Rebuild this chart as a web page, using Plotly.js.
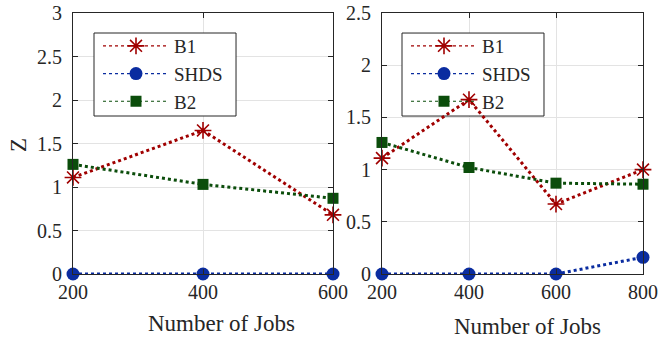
<!DOCTYPE html>
<html>
<head>
<meta charset="utf-8">
<script src="https://cdn.plot.ly/plotly-3.0.1.min.js"></script>
<style>
    html, body { margin: 0; padding: 0; background: #fff; }
    #graph { width: 665px; height: 340px; }
</style>
</head>
<body>
<div id="graph"></div>
<script>
// left panel
const jobsLeft = [200, 400, 600];
const b1Left = [1.11, 1.65, 0.68];
const shdsLeft = [0, 0, 0];
const b2Left = [1.26, 1.03, 0.87];

// right panel
const jobsRight = [200, 400, 600, 800];
const b1Right = [1.11, 1.67, 0.67, 1.0];
const shdsRight = [0, 0, 0, 0.16];
const b2Right = [1.26, 1.02, 0.87, 0.86];

const seriesNames = ['B1', 'SHDS', 'B2'];
const xTitle = 'Number of Jobs';
const yTitle = 'Z';

const red = '#a00000';
const blue = '#0a2ca0';
const green = '#0b4d0b';
const frameColor = '#262626';
const serif = 'Liberation Serif';

const W = 665, H = 340;
const marginTop = 13, marginBottom = 66;
const plotH = H - marginTop - marginBottom;

function px(x) { return x / W; }
function py(y) { return (marginTop + plotH - y) / plotH; }

const styles = [
    {color: red, marker: {symbol: 'asterisk-open', size: 14, line: {color: red, width: 1.6}, color: red}},
    {color: blue, marker: {symbol: 'circle', size: 13, color: blue}},
    {color: green, marker: {symbol: 'square', size: 11, color: green}}
];

function makeTraces(xs, series, xa, ya, legend) {
    let traces = [];
    series.forEach((ys, i) => {
        traces.push({
            x: xs, y: ys, name: seriesNames[i],
            mode: 'lines+markers', type: 'scatter', xaxis: xa, yaxis: ya,
            cliponaxis: false, showlegend: false,
            line: {color: styles[i].color, width: 3, dash: 'dot'},
            marker: styles[i].marker
        });
    });
    // legend entries, drawn with the thinner legend line
    series.forEach((ys, i) => {
        traces.push({
            x: [null], y: [null], name: seriesNames[i],
            mode: 'lines+markers', type: 'scatter', xaxis: xa, yaxis: ya,
            legend: legend, hoverinfo: 'skip',
            line: {color: styles[i].color, width: 1.2, dash: 'dot'},
            marker: styles[i].marker
        });
    });
    return traces;
}

const data = [].concat(
    makeTraces(jobsLeft, [b1Left, shdsLeft, b2Left], 'x', 'y', 'legend'),
    makeTraces(jobsRight, [b1Right, shdsRight, b2Right], 'x2', 'y2', 'legend2')
);

const tickFont = {family: serif, size: 20, color: frameColor};
const titleFont = {family: serif, size: 23, color: frameColor};

function axisStyle(extra) {
    return Object.assign({
        showline: true,
        linecolor: frameColor,
        linewidth: 1,
        mirror: 'ticks',
        ticks: 'inside',
        ticklen: 5,
        tickcolor: frameColor,
        showgrid: true,
        gridcolor: '#e3e3e3',
        gridwidth: 1,
        zeroline: false,
        fixedrange: true,
        tickfont: tickFont
    }, extra);
}

const legendStyle = {
    bgcolor: 'rgba(0,0,0,0)',
    borderwidth: 0,
    font: {family: serif, size: 19, color: frameColor},
    xanchor: 'left',
    yanchor: 'middle',
    itemwidth: 66,
    tracegroupgap: 0
};

// opaque legend box, between the grid and the data lines
function legendBox(xa, ya, x0, x1, y0, y1) {
    return {
        type: 'rect', layer: 'between',
        xref: xa, yref: ya,
        x0: x0, x1: x1, y0: y0, y1: y1,
        fillcolor: '#ffffff',
        line: {color: frameColor, width: 1}
    };
}

const layout = {
    width: W,
    height: H,
    margin: {l: 0, r: 0, t: marginTop, b: marginBottom, pad: 0},
    paper_bgcolor: '#ffffff',
    plot_bgcolor: '#ffffff',
    font: {family: serif, color: frameColor},
    showlegend: true,
    xaxis: axisStyle({domain: [px(73), px(333)], range: [200, 600], tickvals: jobsLeft, anchor: 'y'}),
    yaxis: axisStyle({range: [0, 3], dtick: 0.5, tick0: 0, anchor: 'x', ticklabelstandoff: 6}),
    xaxis2: axisStyle({domain: [px(382), px(643)], range: [200, 800], tickvals: jobsRight, anchor: 'y2'}),
    yaxis2: axisStyle({range: [0, 2.5], dtick: 0.5, tick0: 0, anchor: 'x2', ticklabelstandoff: 6}),
    legend: Object.assign({}, legendStyle, {x: px(98), y: py(74)}),
    legend2: Object.assign({}, legendStyle, {x: px(406), y: py(74)}),
    shapes: [
        legendBox('x', 'y', 232.3, 450.8, 1.816, 2.770),
        legendBox('x2', 'y2', 246, 572.4, 1.513, 2.308)
    ],
    annotations: [
        {text: xTitle, xref: 'paper', yref: 'paper', x: px(221), y: py(323), xanchor: 'center', yanchor: 'middle', showarrow: false, font: titleFont},
        {text: xTitle, xref: 'paper', yref: 'paper', x: px(527), y: py(326), xanchor: 'center', yanchor: 'middle', showarrow: false, font: titleFont},
        {text: yTitle, xref: 'paper', yref: 'paper', x: px(18), y: py(145), xanchor: 'center', yanchor: 'middle', textangle: -90, showarrow: false, font: titleFont}
    ]
};

Plotly.newPlot('graph', data, layout, {staticPlot: true, displayModeBar: false});
</script>
</body>
</html>
